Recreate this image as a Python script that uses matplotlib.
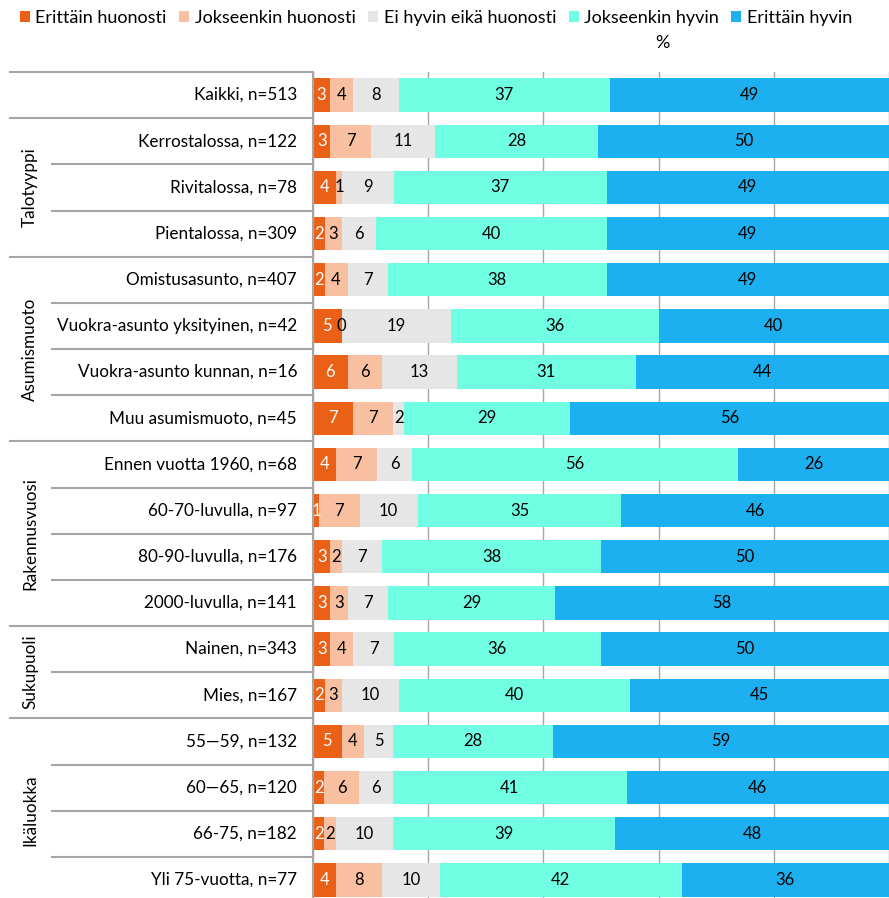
import matplotlib
matplotlib.use("Agg")
import matplotlib.pyplot as plt
import matplotlib.transforms as mtransforms
from matplotlib.patches import Patch
import numpy as np

plt.rcParams['font.family'] = ['Lato', 'DejaVu Sans']

categories = [
    "Kaikki, n=513",
    "Kerrostalossa, n=122", "Rivitalossa, n=78", "Pientalossa, n=309",
    "Omistusasunto, n=407", "Vuokra-asunto yksityinen, n=42",
    "Vuokra-asunto kunnan, n=16", "Muu asumismuoto, n=45",
    "Ennen vuotta 1960, n=68", "60-70-luvulla, n=97", "80-90-luvulla, n=176",
    "2000-luvulla, n=141",
    "Nainen, n=343", "Mies, n=167",
    "55\u201459, n=132", "60\u201465, n=120", "66-75, n=182", "Yli 75-vuotta, n=77",
]
series_names = ["Erittäin huonosti", "Jokseenkin huonosti", "Ei hyvin eikä huonosti",
                "Jokseenkin hyvin", "Erittäin hyvin"]
erittain_huonosti = [3, 3, 4, 2, 2, 5, 6, 7, 4, 1, 3, 3, 3, 2, 5, 2, 2, 4]
jokseenkin_huonosti = [4, 7, 1, 3, 4, 0, 6, 7, 7, 7, 2, 3, 4, 3, 4, 6, 2, 8]
ei_hyvin_eika_huonosti = [8, 11, 9, 6, 7, 19, 13, 2, 6, 10, 7, 7, 7, 10, 5, 6, 10, 10]
jokseenkin_hyvin = [37, 28, 37, 40, 38, 36, 31, 29, 56, 35, 38, 29, 36, 40, 28, 41, 39, 42]
erittain_hyvin = [49, 50, 49, 49, 49, 40, 44, 56, 26, 46, 50, 58, 50, 45, 59, 46, 48, 36]
groups = [("Talotyyppi", 1, 3), ("Asumismuoto", 4, 7), ("Rakennusvuosi", 8, 11),
          ("Sukupuoli", 12, 13), ("Ikäluokka", 14, 17)]
xticks = [0, 20, 40, 60, 80, 100]

colors = ["#EB6017", "#F8C0A1", "#E6E6E6", "#70FFE3", "#1CB0F0"]
text_colors = ["white", "black", "black", "black", "black"]

data = np.array([erittain_huonosti, jokseenkin_huonosti, ei_hyvin_eika_huonosti,
                 jokseenkin_hyvin, erittain_hyvin], dtype=float)
totals = data.sum(axis=0)
scaled = data / totals * 100

W, H = 889, 898
fig = plt.figure(figsize=(W / 100, H / 100), dpi=100)
ax = fig.add_axes([313 / W, -5 / H, 576 / W, (903 - 72) / H])

n = len(categories)
y = np.arange(n)
left = np.zeros(n)
for i in range(5):
    ax.barh(y, scaled[i], left=left, height=0.72, color=colors[i], zorder=2,
            label=series_names[i])
    for j in range(n):
        cx = left[j] + scaled[i][j] / 2
        ax.text(cx, y[j], f"{int(data[i][j])}", ha="center", va="center",
                fontsize=12, color=text_colors[i], zorder=3)
    left += scaled[i]

ax.set_xlim(0, 100)
ax.set_ylim(n - 0.5, -0.5)
ax.set_xticks(xticks)
ax.set_xticklabels([])
ax.set_yticks([])
ax.tick_params(axis="x", length=0)
ax.grid(axis="x", color="#A6A6A6", linewidth=1, zorder=0)
for s in ["top", "right", "bottom"]:
    ax.spines[s].set_visible(False)
ax.spines["left"].set_color("#A6A6A6")
ax.spines["left"].set_linewidth(1.5)
ax.spines["left"].set_zorder(4)

trans = mtransforms.blended_transform_factory(ax.transAxes, ax.transData)
x_full = (10 - 313) / 576
x_inner = (52 - 313) / 576
for j in range(n):
    ax.text((297 - 313) / 576, j, categories[j], transform=trans, ha="right",
            va="center", fontsize=12.3, color="black")

group_starts = {g[1] for g in groups}
bounds = [-0.5] + [j + 0.5 for j in range(n - 1)]
for b in bounds:
    row_below = int(b + 0.5)
    xs = x_full if (row_below == 0 or row_below in group_starts) else x_inner
    ax.plot([xs, 0], [b, b], transform=trans, color="#A6A6A6", linewidth=1.5,
            clip_on=False, zorder=4)

for name, a, b in groups:
    ax.text((30 - 313) / 576, (a + b) / 2, name, transform=trans, rotation=90,
            ha="center", va="center", fontsize=12.3)

handles = [Patch(facecolor=c, edgecolor="none") for c in colors]
fig.legend(handles, series_names, loc="center", bbox_to_anchor=(436 / W, 1 - 18 / H),
           ncol=5, frameon=False, fontsize=13, handlelength=0.55, handleheight=0.55,
           handletextpad=0.3, columnspacing=0.7, borderaxespad=0)
fig.text(662 / W, 1 - 43 / H, "%", ha="center", va="center", fontsize=13)

fig.savefig("out.png", dpi=100)
